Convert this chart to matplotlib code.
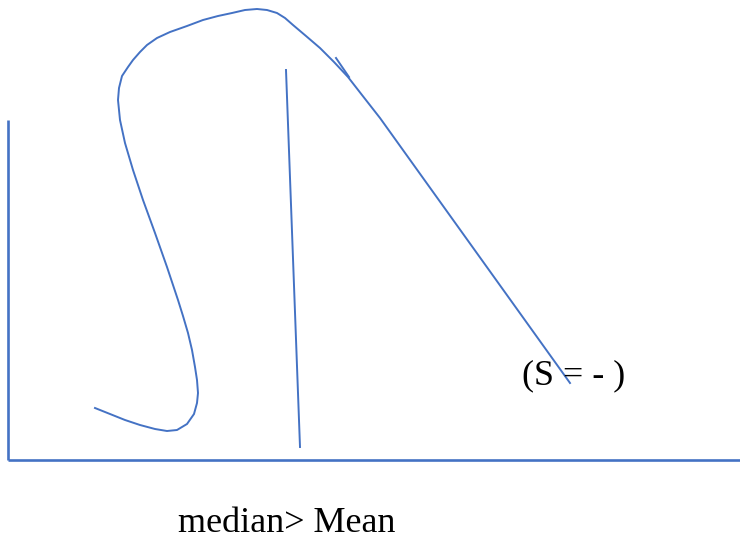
import matplotlib
matplotlib.use("Agg")
import matplotlib.pyplot as plt

# hand-drawn sketch, coordinates in picture pixels (x right, y down)
curve_x = [95, 110, 125, 140, 155, 167, 177, 187, 194, 197, 198, 197, 195, 192,
           188, 183, 178, 167, 155, 143, 133, 125, 120, 118, 119, 122, 128, 133,
           140, 147, 157, 170, 187, 203, 218, 232, 245, 257, 267, 277, 285, 293,
           306, 320, 334, 348, 362, 380, 570]
curve_y = [408, 414, 420, 425, 429, 431, 430, 424, 414, 403, 393, 380, 367, 350,
           333, 316, 300, 267, 233, 200, 170, 143, 120, 100, 88, 76, 67, 60,
           52, 45, 38, 32, 26, 20, 16, 13, 10, 9, 10, 13, 18, 25,
           36, 48, 62, 77, 95, 118, 383]

tick_x = [336, 349]
tick_y = [58, 77]

median_x = [286, 300]
median_y = [70, 447]

yaxis_x = [8, 8]
yaxis_y = [120, 460]
xaxis_x = [8, 740]
xaxis_y = [460, 460]

skew_label = "(S = - )"
caption = "median> Mean"

BLUE = "#4472C4"

fig = plt.figure(figsize=(7.4, 5.4), dpi=100)
ax = fig.add_axes([0, 0, 1, 1])
ax.set_xlim(0, 740)
ax.set_ylim(540, 0)
ax.axis("off")

ax.plot(xaxis_x, xaxis_y, color=BLUE, lw=1.9, solid_capstyle="butt")
ax.plot(yaxis_x, yaxis_y, color=BLUE, lw=1.9, solid_capstyle="butt")

ax.plot(curve_x, curve_y, color=BLUE, lw=1.4, solid_joinstyle="round")
ax.plot(tick_x, tick_y, color=BLUE, lw=1.4)
ax.plot(median_x, median_y, color=BLUE, lw=1.4)

ax.text(522, 376, skew_label, fontsize=26, family="Liberation Serif",
        ha="left", va="center", color="black")
ax.text(178, 523, caption, fontsize=26, family="Liberation Serif",
        ha="left", va="center", color="black")

fig.savefig("out.png", dpi=100)
plt.close(fig)
